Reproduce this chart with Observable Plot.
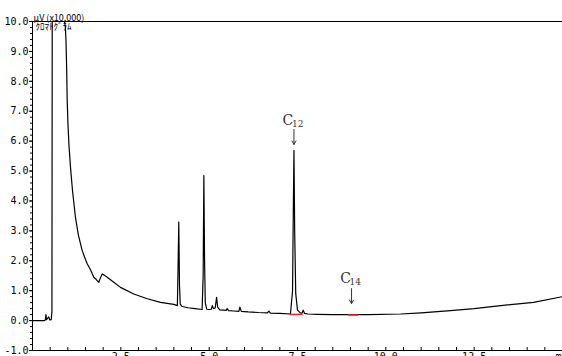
<!DOCTYPE html>
<html><head><meta charset="utf-8">
<script src="https://cdn.jsdelivr.net/npm/d3@7"></script>
<script src="https://cdn.jsdelivr.net/npm/@observablehq/plot@0.6"></script>
<style>
html,body{margin:0;padding:0;background:#fff;}
</style>
</head><body>
<div id="chart"></div>
<script>
// Retention time (min) and detector signal (µV ×10,000)
const times = [0, 0.34, 0.36, 0.38, 0.40, 0.43, 0.46, 0.49, 0.53, 0.55, 0.56, 0.90, 0.91, 0.93, 0.948, 0.968, 0.982, 1.005, 1.033, 1.076, 1.132, 1.217, 1.302, 1.407, 1.50, 1.548, 1.642, 1.735, 1.80, 1.877, 1.92, 1.973, 2.03, 2.114, 2.30, 2.491, 2.867, 3.247, 3.623, 4.00, 4.10, 4.12, 4.14, 4.16, 4.18, 4.22, 4.40, 4.60, 4.80, 4.83, 4.85, 4.87, 4.89, 4.93, 5.00, 5.06, 5.09, 5.12, 5.17, 5.21, 5.24, 5.30, 5.40, 5.48, 5.51, 5.55, 5.70, 5.84, 5.87, 5.91, 6.10, 6.40, 6.65, 6.69, 6.73, 7.00, 7.30, 7.36, 7.38, 7.40, 7.42, 7.45, 7.50, 7.58, 7.63, 7.66, 7.70, 7.80, 8.06, 8.50, 9.00, 9.50, 10.42, 11.00, 11.83, 12.50, 13.25, 14.18, 15.0];
const signal = [0, 0, 0.02, 0.20, 0.03, 0.08, 0.12, 0.02, 0.03, 0.30, 12, 12, 10.0, 9.8, 9.36, 8.36, 7.36, 6.52, 5.85, 5.12, 4.35, 3.44, 2.84, 2.34, 2.04, 1.90, 1.70, 1.45, 1.38, 1.28, 1.42, 1.56, 1.52, 1.45, 1.28, 1.11, 0.89, 0.73, 0.61, 0.54, 0.50, 1.8, 3.29, 1.2, 0.56, 0.48, 0.43, 0.40, 0.37, 1.5, 4.85, 2.0, 0.6, 0.38, 0.37, 0.38, 0.50, 0.40, 0.42, 0.78, 0.45, 0.36, 0.35, 0.34, 0.40, 0.33, 0.32, 0.31, 0.45, 0.31, 0.29, 0.27, 0.26, 0.32, 0.25, 0.24, 0.22, 1.0, 3.5, 5.69, 3.0, 0.9, 0.35, 0.26, 0.25, 0.35, 0.24, 0.22, 0.21, 0.20, 0.20, 0.20, 0.22, 0.26, 0.33, 0.40, 0.50, 0.61, 0.80];

// Integration baselines (red)
const red1Times = [7.30, 7.63];
const red1Values = [0.20, 0.21];
const red2Times = [8.94, 9.20];
const red2Values = [0.19, 0.19];

// Peak annotations
const annoNames = ["C", "C"];
const annoSubs = ["12", "14"];
const annoTimes = [7.40, 9.03];
const annoTextY = [6.69, 1.42];
const arrowTop = [6.39, 1.07];
const arrowBottom = [5.89, 0.57];

// Axes
const yTicks = [-1, 0, 1, 2, 3, 4, 5, 6, 7, 8, 9, 10];
const yTickLabels = ["-1.0", "0.0", "1.0", "2.0", "3.0", "4.0", "5.0", "6.0", "7.0", "8.0", "9.0", "10.0"];
const xTicks = [2.5, 5.0, 7.5, 10.0, 12.5];
const xTickLabels = ["2.5", "5.0", "7.5", "10.0", "12.5"];
const xUnit = "min";
const yUnit = "µV (x10,000)";
const chartName = "ｸﾛﾏﾄｸﾞﾗﾑ";

const data = times.map((t, i) => ({t, v: signal[i]}));
const red1 = red1Times.map((t, i) => ({t, v: red1Values[i]}));
const red2 = red2Times.map((t, i) => ({t, v: red2Values[i]}));
const anno = annoNames.map((n, i) => ({n, s: annoSubs[i], t: annoTimes[i], ty: annoTextY[i], a1: arrowTop[i], a2: arrowBottom[i]}));
const xMinor = d3.range(0.5, 15.01, 0.5);
const yMinor = d3.range(-1, 10.01, 0.2).map(d => +d.toFixed(1));

const mono = "'DejaVu Sans Mono', monospace";

const chart = Plot.plot({
  width: 562,
  height: 356,
  marginLeft: 32,
  marginRight: 0,
  marginTop: 21,
  marginBottom: 6,
  style: {background: "#fff", color: "#000"},
  x: {domain: [0, 15], axis: null},
  y: {domain: [-1, 10], axis: null},
  marks: [
    // frame lines
    Plot.ruleY([10], {stroke: "#000", strokeWidth: 1}),
    Plot.ruleY([-1], {stroke: "#000", strokeWidth: 1}),
    Plot.ruleX([0], {stroke: "#000", strokeWidth: 1}),
    // y ticks
    Plot.axisY({ticks: yMinor, tickSize: 2, tickFormat: () => "", label: null}),
    Plot.axisY({ticks: yTicks, tickSize: 3, tickPadding: 1, tickFormat: d => yTickLabels[yTicks.indexOf(d)], label: null, fontFamily: mono, fontSize: 10}),
    // x ticks (pointing up)
    Plot.ruleX(xMinor, {x: d => d, y1: -1, y2: -0.9, stroke: "#000"}),
    Plot.axisX({ticks: xTicks, tickSize: 0, tickPadding: 2, tickFormat: d => xTickLabels[xTicks.indexOf(d)], label: null, fontFamily: mono, fontSize: 10}),
    Plot.text([xUnit], {x: 15, y: -1, dx: -7, dy: 2, textAnchor: "start", lineAnchor: "top", fontFamily: mono, fontSize: 10}),
    // chromatogram
    Plot.line(data, {x: "t", y: "v", stroke: "#000", strokeWidth: 1.2, clip: true}),
    Plot.line(red1, {x: "t", y: "v", stroke: "#ff2020", strokeWidth: 1.5}),
    Plot.line(red2, {x: "t", y: "v", stroke: "#ff2020", strokeWidth: 1.5}),
    // annotations
    Plot.text(anno, {x: "t", y: "ty", text: "n", dx: -6, fontFamily: "'DejaVu Serif', serif", fontSize: 14, fill: "#333"}),
    Plot.text(anno, {x: "t", y: "ty", text: "s", dx: -2, dy: 4, textAnchor: "start", fontFamily: "'DejaVu Serif', serif", fontSize: 9, fill: "#333"}),
    Plot.arrow(anno, {x: "t", y1: "a1", y2: "a2", stroke: "#333", strokeWidth: 1, headLength: 6, bend: 0}),
    // unit labels
    Plot.text([yUnit], {frameAnchor: "top-left", dx: 1, dy: -1, textAnchor: "start", lineAnchor: "bottom", fontFamily: "'Noto Sans CJK JP', sans-serif", fontSize: 9}),
    Plot.text([chartName], {frameAnchor: "top-left", dx: 3, dy: 2, textAnchor: "start", lineAnchor: "top", fontFamily: "'Noto Sans CJK JP', sans-serif", fontSize: 9})
  ]
});
document.getElementById("chart").appendChild(chart);
</script>
</body></html>
